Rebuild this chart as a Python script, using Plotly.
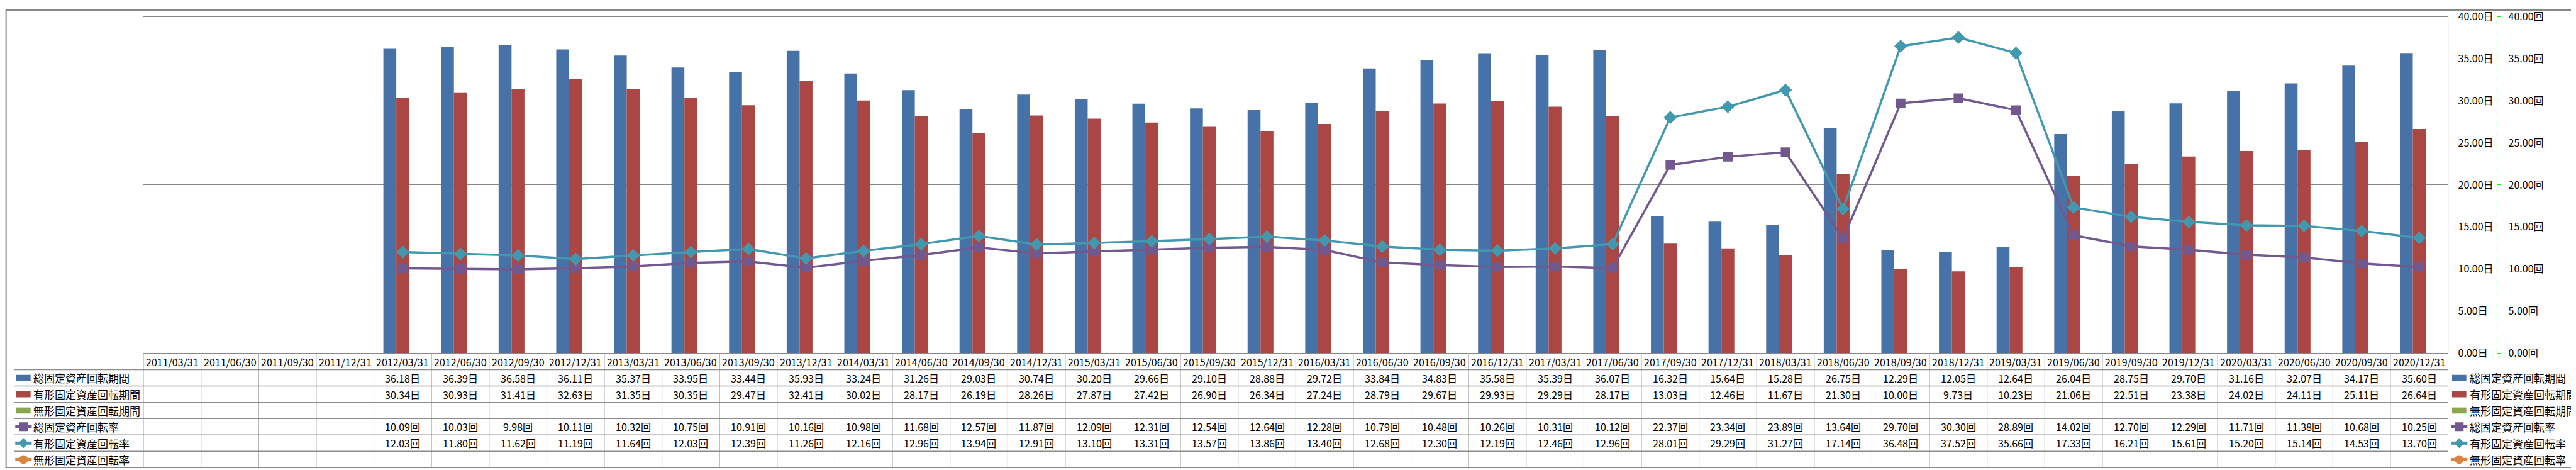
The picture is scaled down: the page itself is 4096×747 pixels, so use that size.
import plotly.graph_objects as go

# ---------------- data ----------------
categories = [
    "2011/03/31", "2011/06/30", "2011/09/30", "2011/12/31",
    "2012/03/31", "2012/06/30", "2012/09/30", "2012/12/31",
    "2013/03/31", "2013/06/30", "2013/09/30", "2013/12/31",
    "2014/03/31", "2014/06/30", "2014/09/30", "2014/12/31",
    "2015/03/31", "2015/06/30", "2015/09/30", "2015/12/31",
    "2016/03/31", "2016/06/30", "2016/09/30", "2016/12/31",
    "2017/03/31", "2017/06/30", "2017/09/30", "2017/12/31",
    "2018/03/31", "2018/06/30", "2018/09/30", "2018/12/31",
    "2019/03/31", "2019/06/30", "2019/09/30", "2019/12/31",
    "2020/03/31", "2020/06/30", "2020/09/30", "2020/12/31",
]

total_period = [None, None, None, None,
    36.18, 36.39, 36.58, 36.11, 35.37, 33.95, 33.44, 35.93,
    33.24, 31.26, 29.03, 30.74, 30.20, 29.66, 29.10, 28.88,
    29.72, 33.84, 34.83, 35.58, 35.39, 36.07, 16.32, 15.64,
    15.28, 26.75, 12.29, 12.05, 12.64, 26.04, 28.75, 29.70,
    31.16, 32.07, 34.17, 35.60]

tangible_period = [None, None, None, None,
    30.34, 30.93, 31.41, 32.63, 31.35, 30.35, 29.47, 32.41,
    30.02, 28.17, 26.19, 28.26, 27.87, 27.42, 26.90, 26.34,
    27.24, 28.79, 29.67, 29.93, 29.29, 28.17, 13.03, 12.46,
    11.67, 21.30, 10.00, 9.73, 10.23, 21.06, 22.51, 23.38,
    24.02, 24.11, 25.11, 26.64]

intangible_period = [None] * 40

total_rate = [None, None, None, None,
    10.09, 10.03, 9.98, 10.11, 10.32, 10.75, 10.91, 10.16,
    10.98, 11.68, 12.57, 11.87, 12.09, 12.31, 12.54, 12.64,
    12.28, 10.79, 10.48, 10.26, 10.31, 10.12, 22.37, 23.34,
    23.89, 13.64, 29.70, 30.30, 28.89, 14.02, 12.70, 12.29,
    11.71, 11.38, 10.68, 10.25]

tangible_rate = [None, None, None, None,
    12.03, 11.80, 11.62, 11.19, 11.64, 12.03, 12.39, 11.26,
    12.16, 12.96, 13.94, 12.91, 13.10, 13.31, 13.57, 13.86,
    13.40, 12.68, 12.30, 12.19, 12.46, 12.96, 28.01, 29.29,
    31.27, 17.14, 36.48, 37.52, 35.66, 17.33, 16.21, 15.61,
    15.20, 15.14, 14.53, 13.70]

intangible_rate = [None] * 40

series_names = ["総固定資産回転期間", "有形固定資産回転期間", "無形固定資産回転期間",
                "総固定資産回転率", "有形固定資産回転率", "無形固定資産回転率"]
series_units = ["日", "日", "日", "回", "回", "回"]

# ---------------- styling / layout constants ----------------
W, H = 4096, 747
RW, RH = 7052.0, 1286.0          # reference canvas
FONT = "Noto Sans CJK JP"
FS = 16          # numbers / dates
FS_LABEL = 17    # legend labels
BLUE, RED, GREEN = "#4672A8", "#AA4643", "#89A54E"
PURPLE, CYAN, ORANGE = "#71588F", "#4198AF", "#DB843D"
colors = [BLUE, RED, GREEN, PURPLE, CYAN, ORANGE]
GRID = "#888888"
TABLE_V = "#A8A8A8"
TABLE_H = "#8C8C8C"

def px_(X):  # reference x -> paper
    return X / RW

def py_(Y):  # reference y -> paper
    return 1 - Y / RH

PLOT_L, PLOT_R, PLOT_T, PLOT_B = 379, 6688, 20, 964
ROW_EDGES = [964, 1010, 1056, 1102, 1147, 1193, 1239, 1285]
LEG_L = 25

# y range: 0..40 maps PLOT_B..PLOT_T; extend a little above so the 40 gridline is drawn
YTOP = 40.0
YMAX = 40.5
dom_top = PLOT_T - (PLOT_B - PLOT_T) * (YMAX - YTOP) / YTOP

fig = go.Figure()

series_values = [total_period, tangible_period, intangible_period,
                 total_rate, tangible_rate, intangible_rate]

for name, vals, col in zip(series_names[:3], series_values[:3], colors[:3]):
    fig.add_trace(go.Bar(x=categories, y=vals, name=name, marker_color=col,
                         marker_line_width=0, yaxis="y"))

markers = ["square", "diamond", "circle"]
msizes = [15, 16, 15]
for name, vals, col, sym, ms in zip(series_names[3:], series_values[3:], colors[3:], markers, msizes):
    fig.add_trace(go.Scatter(x=categories, y=vals, name=name, mode="lines+markers",
                             line=dict(color=col, width=3.5),
                             marker=dict(symbol=sym, size=ms, color=col),
                             yaxis="y2"))

shapes = []
annotations = []

# table vertical lines (category boundaries)
for k in range(len(categories) + 1):
    shapes.append(dict(type="line", xref="x", yref="paper",
                       x0=k - 0.5, x1=k - 0.5, y0=py_(ROW_EDGES[0]), y1=py_(ROW_EDGES[-1]),
                       line=dict(color=TABLE_V, width=1)))
# plot-area right edge (primary axis line), from 0 to 40 only
shapes.append(dict(type="line", xref="paper", yref="y",
                   x0=px_(PLOT_R), x1=px_(PLOT_R), y0=0, y1=YTOP,
                   line=dict(color=GRID, width=1)))
# legend column left edge
shapes.append(dict(type="line", xref="paper", yref="paper",
                   x0=px_(LEG_L), x1=px_(LEG_L), y0=py_(ROW_EDGES[1]), y1=py_(ROW_EDGES[-1]),
                   line=dict(color=TABLE_V, width=1)))
# table horizontal lines
for Y in ROW_EDGES[1:-1]:
    shapes.append(dict(type="line", xref="paper", yref="paper",
                       x0=px_(LEG_L), x1=px_(PLOT_R), y0=py_(Y), y1=py_(Y),
                       line=dict(color=TABLE_H, width=1.5)))

# secondary axis dashed green line
shapes.append(dict(type="line", xref="paper", yref="y2",
                   x0=px_(6822), x1=px_(6822), y0=0, y1=YTOP,
                   line=dict(color="#00FF00", width=1, dash="dash")))

# outer border
shapes.append(dict(type="rect", xref="paper", yref="paper",
                   x0=0.0004, x1=0.9996, y0=0.0013, y1=0.9987,
                   line=dict(color="#878787", width=2)))

# header dates
hdr_y = py_((ROW_EDGES[0] + ROW_EDGES[1]) / 2)
for c in categories:
    annotations.append(dict(x=c, xref="x", y=hdr_y, yref="paper", text=c,
                            showarrow=False, xanchor="center", yanchor="middle",
                            font=dict(family=FONT, size=FS, color="black")))

# table values + legend keys
for r, (name, vals, unit, col) in enumerate(zip(series_names, series_values, series_units, colors)):
    yc_ref = (ROW_EDGES[r + 1] + ROW_EDGES[r + 2]) / 2
    yc = py_(yc_ref)
    for c, v in zip(categories, vals):
        if v is None:
            continue
        annotations.append(dict(x=c, xref="x", y=yc, yref="paper",
                                text=f"{v:.2f}{unit}", showarrow=False,
                                xanchor="center", yanchor="middle",
                                font=dict(family=FONT, size=FS, color="black")))
    for key_l, text_x in ((31, 74), (6699, 6743)):
        if r < 3:
            shapes.append(dict(type="rect", xref="paper", yref="paper",
                               x0=px_(key_l), x1=px_(key_l + 39),
                               y0=py_(yc_ref + 8.5), y1=py_(yc_ref - 8.5),
                               fillcolor=col, line=dict(width=0)))
        else:
            shapes.append(dict(type="line", xref="paper", yref="paper",
                               x0=px_(key_l - 3), x1=px_(key_l + 42), y0=yc, y1=yc,
                               line=dict(color=col, width=5)))
            cx = px_(key_l + 19.5)
            m = r - 3
            if m == 0:
                shapes.append(dict(type="rect", xref="paper", yref="paper",
                                   xsizemode="pixel", ysizemode="pixel",
                                   xanchor=cx, yanchor=yc, x0=-7, x1=7, y0=-7, y1=7,
                                   fillcolor=col, line=dict(width=0)))
            elif m == 1:
                shapes.append(dict(type="path", xref="paper", yref="paper",
                                   xsizemode="pixel", ysizemode="pixel",
                                   xanchor=cx, yanchor=yc,
                                   path="M 0,8 L 8,0 L 0,-8 L -8,0 Z",
                                   fillcolor=col, line=dict(width=0)))
            else:
                shapes.append(dict(type="circle", xref="paper", yref="paper",
                                   xsizemode="pixel", ysizemode="pixel",
                                   xanchor=cx, yanchor=yc, x0=-7, x1=7, y0=-7, y1=7,
                                   fillcolor=col, line=dict(width=0)))
        annotations.append(dict(x=px_(text_x), xref="paper", y=yc, yref="paper",
                                text=name, showarrow=False, xanchor="left", yanchor="middle",
                                font=dict(family=FONT, size=FS_LABEL, color="black")))

fig.update_layout(
    width=W, height=H,
    margin=dict(l=0, r=0, t=0, b=0),
    paper_bgcolor="white", plot_bgcolor="white",
    showlegend=False,
    barmode="group", bargap=0.328, bargroupgap=0,
    font=dict(family=FONT, size=FS, color="black"),
    xaxis=dict(domain=[px_(PLOT_L), px_(PLOT_R)], type="category",
               range=[-0.5, len(categories) - 0.5],
               showticklabels=False, ticks="", showgrid=False, zeroline=False,
               showline=True, linecolor=GRID, linewidth=1.5),
    yaxis=dict(domain=[py_(PLOT_B), py_(dom_top)], range=[0, YMAX], dtick=5, tick0=0,
               tickformat=".2f", ticksuffix="日", side="right",
               showgrid=True, gridcolor=GRID, gridwidth=1, zeroline=False,
               showline=False, ticks="", ticklabeloverflow="allow",
               ticklabelstandoff=15,
               tickfont=dict(family=FONT, size=FS, color="black")),
    yaxis2=dict(overlaying="y", anchor="free", position=px_(6822), side="right",
                range=[0, YMAX], dtick=5, tick0=0, tickformat=".2f", ticksuffix="回",
                showgrid=False, zeroline=False, showline=False, ticklabeloverflow="allow",
                ticks="outside", ticklen=5, tickcolor="#00FF00", tickwidth=1,
                ticklabelstandoff=9,
                tickfont=dict(family=FONT, size=FS, color="black")),
    shapes=shapes,
    annotations=annotations,
)

fig.write_html("out.html")
